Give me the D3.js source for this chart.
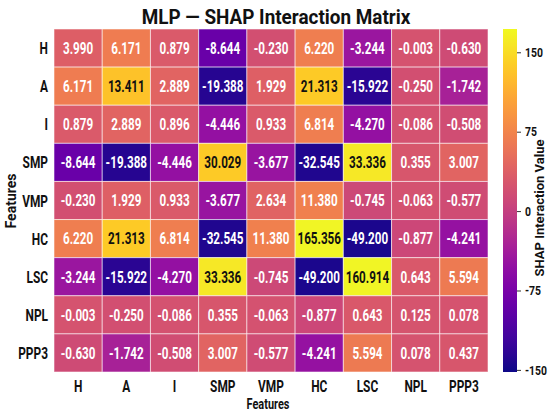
<!DOCTYPE html>
<html>
<head>
<meta charset="utf-8">
<script src="https://cdn.jsdelivr.net/npm/d3@7/dist/d3.min.js"></script>
<style>
  html, body { margin: 0; padding: 0; background: #ffffff; }
  svg { display: block; }
  text { font-family: Roboto, "Liberation Sans", sans-serif; font-weight: bold; }
</style>
</head>
<body>
<svg id="chart" width="550" height="420"></svg>
<script>
// ---------- data ----------
const features = ["H", "A", "I", "SMP", "VMP", "HC", "LSC", "NPL", "PPP3"];
const rowH    = [3.990, 6.171, 0.879, -8.644, -0.230, 6.220, -3.244, -0.003, -0.630];
const rowA    = [6.171, 13.411, 2.889, -19.388, 1.929, 21.313, -15.922, -0.250, -1.742];
const rowI    = [0.879, 2.889, 0.896, -4.446, 0.933, 6.814, -4.270, -0.086, -0.508];
const rowSMP  = [-8.644, -19.388, -4.446, 30.029, -3.677, -32.545, 33.336, 0.355, 3.007];
const rowVMP  = [-0.230, 1.929, 0.933, -3.677, 2.634, 11.380, -0.745, -0.063, -0.577];
const rowHC   = [6.220, 21.313, 6.814, -32.545, 11.380, 165.356, -49.200, -0.877, -4.241];
const rowLSC  = [-3.244, -15.922, -4.270, 33.336, -0.745, -49.200, 160.914, 0.643, 5.594];
const rowNPL  = [-0.003, -0.250, -0.086, 0.355, -0.063, -0.877, 0.643, 0.125, 0.078];
const rowPPP3 = [-0.630, -1.742, -0.508, 3.007, -0.577, -4.241, 5.594, 0.078, 0.437];
const matrix = [rowH, rowA, rowI, rowSMP, rowVMP, rowHC, rowLSC, rowNPL, rowPPP3];

const colorbarTicks = [150, 75, 0, -75, -150];
const colorbarDomain = [-152, 172];

// colour-stop mapping (value -> position on plasma map)
const stopValues = [-50, -32, -19, -15.9, -8.6, -4.4, -3.2, -1.7, -0.9, -0.5, 0, 0.6, 2.9, 4, 5.6, 6.2, 11.4, 13.4, 21.3, 30, 33.3, 165];
const stopT      = [0.02, 0.03, 0.04, 0.05, 0.2, 0.31, 0.33, 0.37, 0.5, 0.52, 0.54, 0.56, 0.6, 0.58, 0.67, 0.68, 0.69, 0.87, 0.89, 0.89, 0.96, 0.99];

// ---------- layout ----------
const svg = d3.select("#chart");
const mLeft = 54, mRight = 488, mTop = 29, mBottom = 372;

const x = d3.scaleBand().domain(features).range([mLeft, mRight]).padding(0);
const y = d3.scaleBand().domain(features).range([mTop, mBottom]).padding(0);
const tScale = d3.scaleLinear().domain(stopValues).range(stopT).clamp(true);
const color = v => d3.interpolatePlasma(tScale(v));

const cells = [];
matrix.forEach((row, i) => row.forEach((v, j) => cells.push({r: features[i], c: features[j], v})));

const g = svg.append("g");
g.selectAll("rect.cell").data(cells).enter().append("rect")
  .attr("class", "cell")
  .attr("x", d => x(d.c)).attr("y", d => y(d.r))
  .attr("width", x.bandwidth()).attr("height", y.bandwidth())
  .attr("fill", d => color(d.v))
  .attr("stroke", "rgba(255,255,255,0.55)").attr("stroke-width", 1);

const sx = 0.72;
g.selectAll("text.val").data(cells).enter().append("text")
  .attr("class", "val")
  .attr("transform", d => `translate(${x(d.c) + x.bandwidth() / 2},${y(d.r) + y.bandwidth() / 2 + 5.8}) scale(${sx},1)`)
  .attr("text-anchor", "middle")
  .attr("font-size", 16.2)
  .attr("fill", d => tScale(d.v) > 0.8 ? "#111" : "#fff")
  .text(d => d.v.toFixed(3));

// y tick labels
svg.append("g").selectAll("text").data(features).enter().append("text")
  .attr("transform", d => `translate(48,${y(d) + y.bandwidth() / 2 + 6}) scale(0.7,1)`)
  .attr("text-anchor", "end")
  .attr("font-size", 17)
  .attr("fill", "#111")
  .text(d => d);

// x tick labels
svg.append("g").selectAll("text").data(features).enter().append("text")
  .attr("transform", d => `translate(${x(d) + x.bandwidth() / 2},392) scale(0.7,1)`)
  .attr("text-anchor", "middle")
  .attr("font-size", 17)
  .attr("fill", "#111")
  .text(d => d);

// axis titles
svg.append("text")
  .attr("transform", `translate(268,409) scale(0.78,1)`)
  .attr("text-anchor", "middle").attr("font-size", 14).attr("fill", "#111")
  .text("Features");
svg.append("text")
  .attr("transform", `translate(16,201) rotate(-90)`)
  .attr("text-anchor", "middle").attr("font-size", 14).attr("fill", "#111")
  .text("Features");

// title
svg.append("text")
  .attr("transform", `translate(276,23.5) scale(0.97,1)`)
  .attr("text-anchor", "middle").attr("font-size", 19.5).attr("fill", "#111")
  .text("MLP — SHAP Interaction Matrix");

// ---------- colorbar ----------
const cbX = 503, cbW = 14;
const cbY = d3.scaleLinear().domain(colorbarDomain).range([mBottom, mTop]);
const defs = svg.append("defs");
const grad = defs.append("linearGradient").attr("id", "cbgrad")
  .attr("x1", 0).attr("y1", 1).attr("x2", 0).attr("y2", 0);
d3.range(0, 1.0001, 0.05).forEach(t => {
  grad.append("stop").attr("offset", t).attr("stop-color", d3.interpolatePlasma(t));
});
svg.append("rect")
  .attr("x", cbX).attr("y", mTop).attr("width", cbW).attr("height", mBottom - mTop)
  .attr("fill", "url(#cbgrad)");

const cbAxis = d3.axisRight(cbY).tickValues(colorbarTicks).tickSize(4).tickPadding(2)
  .tickFormat(d => d === 0 ? "0" : (d < 0 ? "-" + Math.abs(d) : String(d)));
const cbG = svg.append("g").attr("transform", `translate(${cbX + cbW},0)`).call(cbAxis);
cbG.select(".domain").remove();
cbG.selectAll(".tick line").attr("stroke", "#333");
cbG.selectAll(".tick text")
  .attr("font-size", 13).attr("fill", "#111")
  .attr("font-family", "Roboto, sans-serif").attr("font-weight", "bold")
  .attr("transform", "scale(0.8,1)").attr("x", 8 / 0.8);

svg.append("text")
  .attr("transform", `translate(544,208) rotate(-90)`)
  .attr("text-anchor", "middle").attr("font-size", 13).attr("fill", "#111")
  .text("SHAP Interaction Value");
</script>
</body>
</html>
